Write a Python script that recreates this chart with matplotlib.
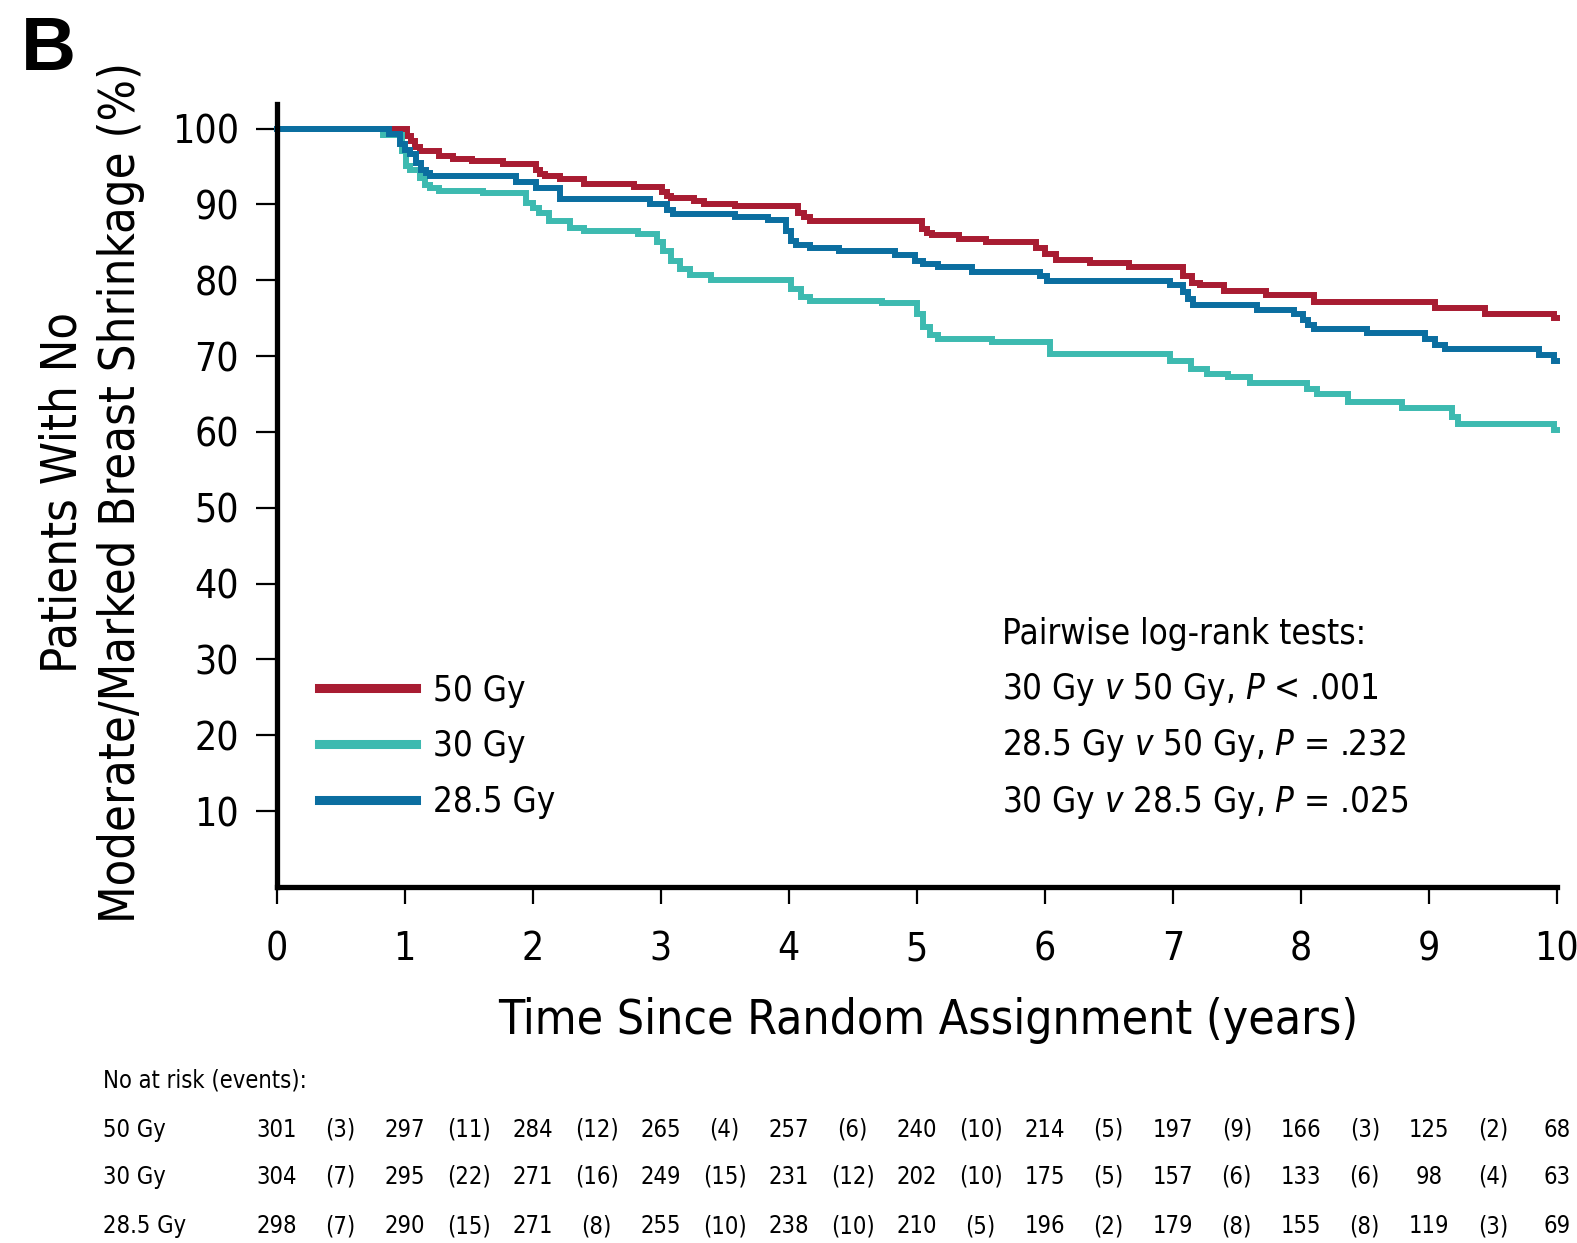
import matplotlib
matplotlib.use("Agg")
import matplotlib.pyplot as plt
import matplotlib.transforms as mtransforms

plt.rcParams['font.family'] = ['DejaVu Sans']
plt.rcParams['font.stretch'] = 'condensed'
plt.rcParams['mathtext.fontset'] = 'custom'
plt.rcParams['mathtext.rm'] = 'DejaVu Sans:stretch=condensed'
plt.rcParams['mathtext.it'] = 'DejaVu Sans:italic:stretch=condensed'

# Kaplan-Meier steps (years, % without shrinkage)
t_50 = [0, 1.02, 1.05, 1.08, 1.12, 1.27, 1.38, 1.53, 1.77, 2.03, 2.06, 2.10, 2.21, 2.40,
        2.79, 3.01, 3.05, 3.08, 3.26, 3.34, 3.58, 4.07, 4.12, 4.17, 5.04, 5.08, 5.12,
        5.33, 5.54, 5.93, 6.00, 6.09, 6.35, 6.66, 7.08, 7.15, 7.21, 7.40, 7.73, 8.10,
        9.05, 9.44, 9.98, 10]
s_50 = [100, 99.0, 98.3, 97.6, 97.0, 96.4, 96.0, 95.7, 95.3, 94.5, 94.0, 93.7, 93.3, 92.7,
        92.3, 91.6, 91.1, 90.8, 90.4, 90.1, 89.8, 88.9, 88.3, 87.8, 86.8, 86.2, 86.0,
        85.4, 85.0, 84.2, 83.4, 82.7, 82.3, 81.8, 80.5, 79.6, 79.4, 78.6, 78.0, 77.1,
        76.3, 75.6, 75.0, 75.0]

t_30 = [0, 0.83, 0.98, 1.01, 1.04, 1.12, 1.16, 1.20, 1.27, 1.61, 1.95, 2.00, 2.05, 2.13,
        2.29, 2.40, 2.82, 2.97, 3.02, 3.08, 3.15, 3.23, 3.39, 4.02, 4.10, 4.17, 4.73,
        5.00, 5.05, 5.10, 5.17, 5.59, 6.04, 6.98, 7.14, 7.27, 7.43, 7.60, 8.05, 8.13,
        8.37, 8.79, 9.18, 9.23, 9.98, 10]
s_30 = [100, 99.1, 97.0, 95.1, 94.6, 93.5, 92.6, 92.2, 91.8, 91.5, 90.2, 89.5, 88.9, 87.8,
        86.9, 86.5, 86.1, 85.1, 83.8, 82.5, 81.5, 80.7, 80.0, 78.8, 77.8, 77.3, 77.0,
        75.5, 73.8, 72.8, 72.3, 71.9, 70.3, 69.4, 68.3, 67.6, 67.2, 66.5, 65.6, 65.0,
        63.9, 63.2, 62.0, 61.0, 60.3, 60.3]

t_285 = [0, 0.88, 0.96, 1.00, 1.04, 1.09, 1.13, 1.17, 1.20, 1.87, 2.03, 2.21, 2.92, 3.05,
         3.10, 3.58, 3.84, 3.98, 4.02, 4.06, 4.17, 4.39, 4.83, 4.99, 5.05, 5.17, 5.43,
         5.96, 6.02, 6.98, 7.08, 7.12, 7.16, 7.66, 7.95, 8.02, 8.06, 8.10, 8.52, 8.97,
         9.05, 9.13, 9.86, 9.98, 10]
s_285 = [100, 99.3, 98.0, 97.2, 96.6, 95.5, 94.6, 94.2, 93.8, 93.0, 92.2, 90.7, 90.0, 89.3,
         88.7, 88.3, 87.9, 86.5, 85.2, 84.6, 84.2, 83.8, 83.3, 82.5, 82.2, 81.8, 81.1,
         80.5, 79.9, 79.4, 78.5, 77.5, 76.8, 76.1, 75.6, 74.8, 74.1, 73.6, 73.1, 72.3,
         71.5, 70.9, 70.1, 69.4, 69.4]

groups = ["50 Gy", "30 Gy", "28.5 Gy"]
colors = ["#A81C32", "#3DBAB0", "#0B6EA0"]

# number at risk at each year, events in each interval
risk_50 = [301, 297, 284, 265, 257, 240, 214, 197, 166, 125, 68]
ev_50 = [3, 11, 12, 4, 6, 10, 5, 9, 3, 2]
risk_30 = [304, 295, 271, 249, 231, 202, 175, 157, 133, 98, 63]
ev_30 = [7, 22, 16, 15, 12, 10, 5, 6, 6, 4]
risk_285 = [298, 290, 271, 255, 238, 210, 196, 179, 155, 119, 69]
ev_285 = [7, 15, 8, 10, 10, 5, 2, 8, 8, 3]

tests = ["Pairwise log-rank tests:",
         "30 Gy $v$ 50 Gy, $P$ < .001",
         "28.5 Gy $v$ 50 Gy, $P$ = .232",
         "30 Gy $v$ 28.5 Gy, $P$ = .025"]
test_y = [0.323, 0.2515, 0.181, 0.108]

ylabel_lines = ["Patients With No", "Moderate/Marked Breast Shrinkage (%)"]

fig = plt.figure(figsize=(15.77, 12.43), dpi=100)
ax = fig.add_axes([0.1754, 0.2864, 0.8118, 0.6303])

for t, s, lab, c in zip([t_50, t_30, t_285], [s_50, s_30, s_285], groups, colors):
    ax.plot(t, s, drawstyle='steps-post', color=c, lw=4.3, label=lab,
            solid_joinstyle='miter', clip_on=False)

ax.set_xlim(0, 10)
ax.set_ylim(0, 103.3)
ax.set_xticks(range(0, 11))
ax.set_yticks(range(10, 101, 10))
for side in ['top', 'right']:
    ax.spines[side].set_visible(False)
for side in ['left', 'bottom']:
    ax.spines[side].set_linewidth(3.8)
ax.tick_params(axis='y', direction='out', length=15, width=1.6, labelsize=28, pad=12)
ax.tick_params(axis='x', direction='out', length=12, width=1.6, labelsize=28, pad=19)

leg = ax.legend(loc='upper left', bbox_to_anchor=(0.033, 0.2725), frameon=False,
                fontsize=25, handlelength=2.8, handletextpad=0.5, labelspacing=0.63,
                borderpad=0, borderaxespad=0)
for ln in leg.get_lines():
    ln.set_linewidth(6.5)

for txt, y in zip(tests, test_y):
    ax.text(0.567, y, txt, transform=ax.transAxes, fontsize=25, ha='left', va='center')

# two-line y label, one text per line
for x, line in zip([0.0395, 0.0768], ylabel_lines):
    fig.text(x, 0.604, line, rotation=90, ha='center', va='center', fontsize=35)
fig.text(0.5886, 0.179, "Time Since Random Assignment (years)", ha='center',
         va='center', fontsize=34.5)
fig.text(0.013, 0.959, "B", fontsize=55, fontweight='bold', family='Liberation Sans',
         stretch='normal', ha='left', va='center')

# number at risk table
trans = mtransforms.blended_transform_factory(ax.transData, fig.transFigure)
fig.text(0.0655, 0.1305, "No at risk (events):", fontsize=17, ha='left', va='center')
row_y = [0.0912, 0.0532, 0.0135]
for y, lab, risk, ev in zip(row_y, groups, [risk_50, risk_30, risk_285],
                            [ev_50, ev_30, ev_285]):
    fig.text(0.0655, y, lab, fontsize=17, ha='left', va='center')
    for i, n in enumerate(risk):
        fig.text(i, y, str(n), transform=trans, fontsize=17, ha='center', va='center')
    for i, e in enumerate(ev):
        fig.text(i + 0.5, y, "(%d)" % e, transform=trans, fontsize=17, ha='center',
                 va='center')

fig.savefig("out.png", dpi=100)
